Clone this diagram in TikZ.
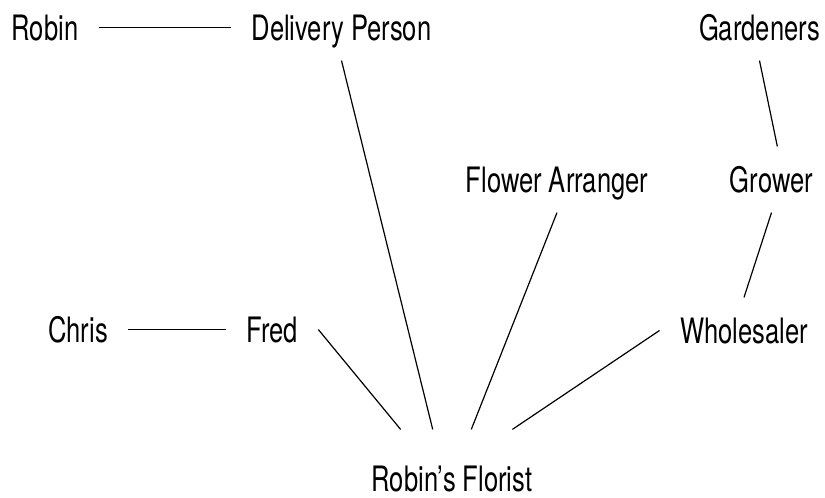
\documentclass[tikz,border=0pt]{standalone}
\usepackage{fontspec}
\setmainfont{TeX Gyre Heros}[FakeStretch=0.73]
\tikzset{role/.style={font=\fontsize{35}{35}\selectfont, text height=25pt, text depth=0pt, inner sep=20pt, anchor=base}}
\tikzset{hub/.style={role, text height=59pt, inner ysep=2pt}}

\begin{document}
\begin{tikzpicture}[x=1pt, y=-1pt, line width=1.2pt]
\useasboundingbox (0,0) rectangle (825,498);

% top row
\node[role] (robin) at (45,40) {Robin};
\node[role] (delivery) at (341.5,40) {Delivery Person};
\node[role] (gardeners) at (759.5,40) {Gardeners};
% second row
\node[role] (arranger) at (557,192) {Flower Arranger};
\node[role] (grower) at (771.5,192) {Grower};
% third row
\node[role] (chris) at (78,342) {Chris};
\node[role] (fred) at (272,342) {Fred};
\node[role] (wholesaler) at (744,343) {Wholesaler};
% the shop
\node[hub] (florist) at (452,491) {Robin’s Florist};

\draw (robin) -- (delivery);
\draw (chris) -- (fred);
\draw (delivery.south) -- (florist.121);
\draw (fred.east) -- (florist.148);
\draw (arranger.south) -- (florist.59);
\draw (wholesaler.west) -- (florist.28);
\draw (gardeners.south) -- (grower.80);
\draw (grower.south) -- (wholesaler.north);
\end{tikzpicture}
\end{document}
